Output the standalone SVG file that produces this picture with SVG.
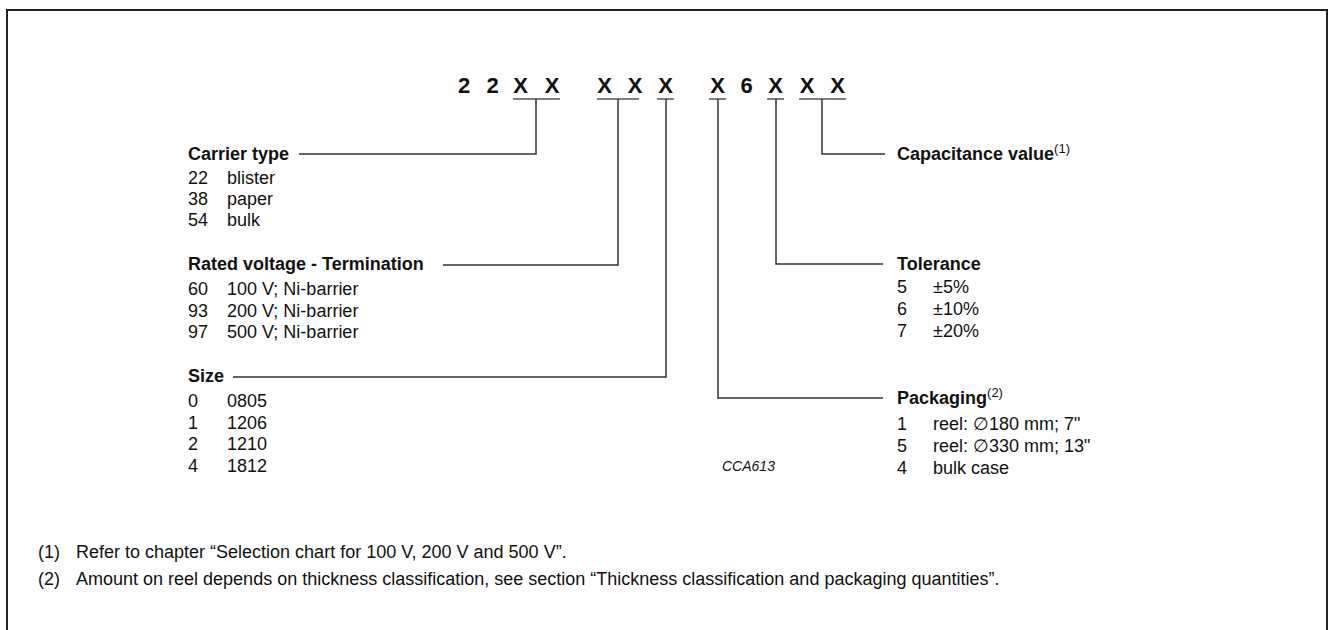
<svg xmlns="http://www.w3.org/2000/svg" width="1330" height="630" viewBox="0 0 1330 630">
<style>
text{font-family:"Liberation Sans",Arial,sans-serif;fill:#111;}
.code{font-size:22px;font-weight:bold;text-anchor:middle;}
.h{font-size:18px;font-weight:bold;}
.t{font-size:18px;}
.sup{font-size:13px;font-weight:normal;}
.id{font-size:14px;font-style:italic;}
.ln{fill:none;stroke:#333;stroke-width:1.5;}
.ul{stroke:#555;stroke-width:1.5;}
</style>
<rect width="1330" height="630" fill="#fff"/>
<path d="M7,640 V10 H1327 V640" fill="none" stroke="#222" stroke-width="2"/>

<g id="code">
<text class="code" x="464" y="93">2</text>
<text class="code" x="492.5" y="93">2</text>
<text class="code" x="520.5" y="93">X</text>
<text class="code" x="552" y="93">X</text>
<text class="code" x="604.5" y="93">X</text>
<text class="code" x="635" y="93">X</text>
<text class="code" x="665.5" y="93">X</text>
<text class="code" x="717.5" y="93">X</text>
<text class="code" x="746.5" y="93">6</text>
<text class="code" x="775.5" y="93">X</text>
<text class="code" x="807" y="93">X</text>
<text class="code" x="837.5" y="93">X</text>
<g class="ul">
<line x1="513" y1="99" x2="560" y2="99"/>
<line x1="597" y1="99" x2="639" y2="99"/>
<line x1="657" y1="99" x2="674" y2="99"/>
<line x1="709" y1="99" x2="726" y2="99"/>
<line x1="767" y1="99" x2="784" y2="99"/>
<line x1="799" y1="99" x2="846" y2="99"/>
</g>
</g>

<g id="connectors" class="ln">
<path d="M536,99 V154 H299"/>
<path d="M618,99 V265 H443"/>
<path d="M666,99 V377 H233"/>
<path d="M718,99 V398 H883"/>
<path d="M776,99 V264 H883"/>
<path d="M822,99 V154 H885"/>
</g>

<g id="carrier">
<text class="h" x="188" y="160">Carrier type</text>
<text class="t" x="188" y="184">22</text><text class="t" x="227" y="184">blister</text>
<text class="t" x="188" y="205">38</text><text class="t" x="227" y="205">paper</text>
<text class="t" x="188" y="226">54</text><text class="t" x="227" y="226">bulk</text>
</g>

<g id="rated">
<text class="h" x="188" y="270">Rated voltage - Termination</text>
<text class="t" x="188" y="295">60</text><text class="t" x="227" y="295">100 V; Ni-barrier</text>
<text class="t" x="188" y="316.5">93</text><text class="t" x="227" y="316.5">200 V; Ni-barrier</text>
<text class="t" x="188" y="338">97</text><text class="t" x="227" y="338">500 V; Ni-barrier</text>
</g>

<g id="size">
<text class="h" x="188" y="382">Size</text>
<text class="t" x="188" y="407">0</text><text class="t" x="227" y="407">0805</text>
<text class="t" x="188" y="428.5">1</text><text class="t" x="227" y="428.5">1206</text>
<text class="t" x="188" y="450">2</text><text class="t" x="227" y="450">1210</text>
<text class="t" x="188" y="471.5">4</text><text class="t" x="227" y="471.5">1812</text>
</g>

<g id="capacitance">
<text class="h" x="897" y="160">Capacitance value<tspan class="sup" dy="-7">(1)</tspan></text>
</g>

<g id="tolerance">
<text class="h" x="897" y="270">Tolerance</text>
<text class="t" x="897" y="293">5</text><text class="t" x="933" y="293">±5%</text>
<text class="t" x="897" y="315">6</text><text class="t" x="933" y="315">±10%</text>
<text class="t" x="897" y="337">7</text><text class="t" x="933" y="337">±20%</text>
</g>

<g id="packaging">
<text class="h" x="897" y="404">Packaging<tspan class="sup" dy="-7">(2)</tspan></text>
<text class="t" x="897" y="430">1</text><text class="t" x="933" y="430">reel: ∅180 mm; 7"</text>
<text class="t" x="897" y="452">5</text><text class="t" x="933" y="452">reel: ∅330 mm; 13"</text>
<text class="t" x="897" y="474">4</text><text class="t" x="933" y="474">bulk case</text>
</g>

<text id="cca613" class="id" x="722" y="471">CCA613</text>

<g id="footnotes">
<text class="t" x="38" y="558">(1)</text><text class="t" x="76" y="558">Refer to chapter “Selection chart for 100 V, 200 V and 500 V”.</text>
<text class="t" x="38" y="585">(2)</text><text class="t" x="76" y="585">Amount on reel depends on thickness classification, see section “Thickness classification and packaging quantities”.</text>
</g>
</svg>
